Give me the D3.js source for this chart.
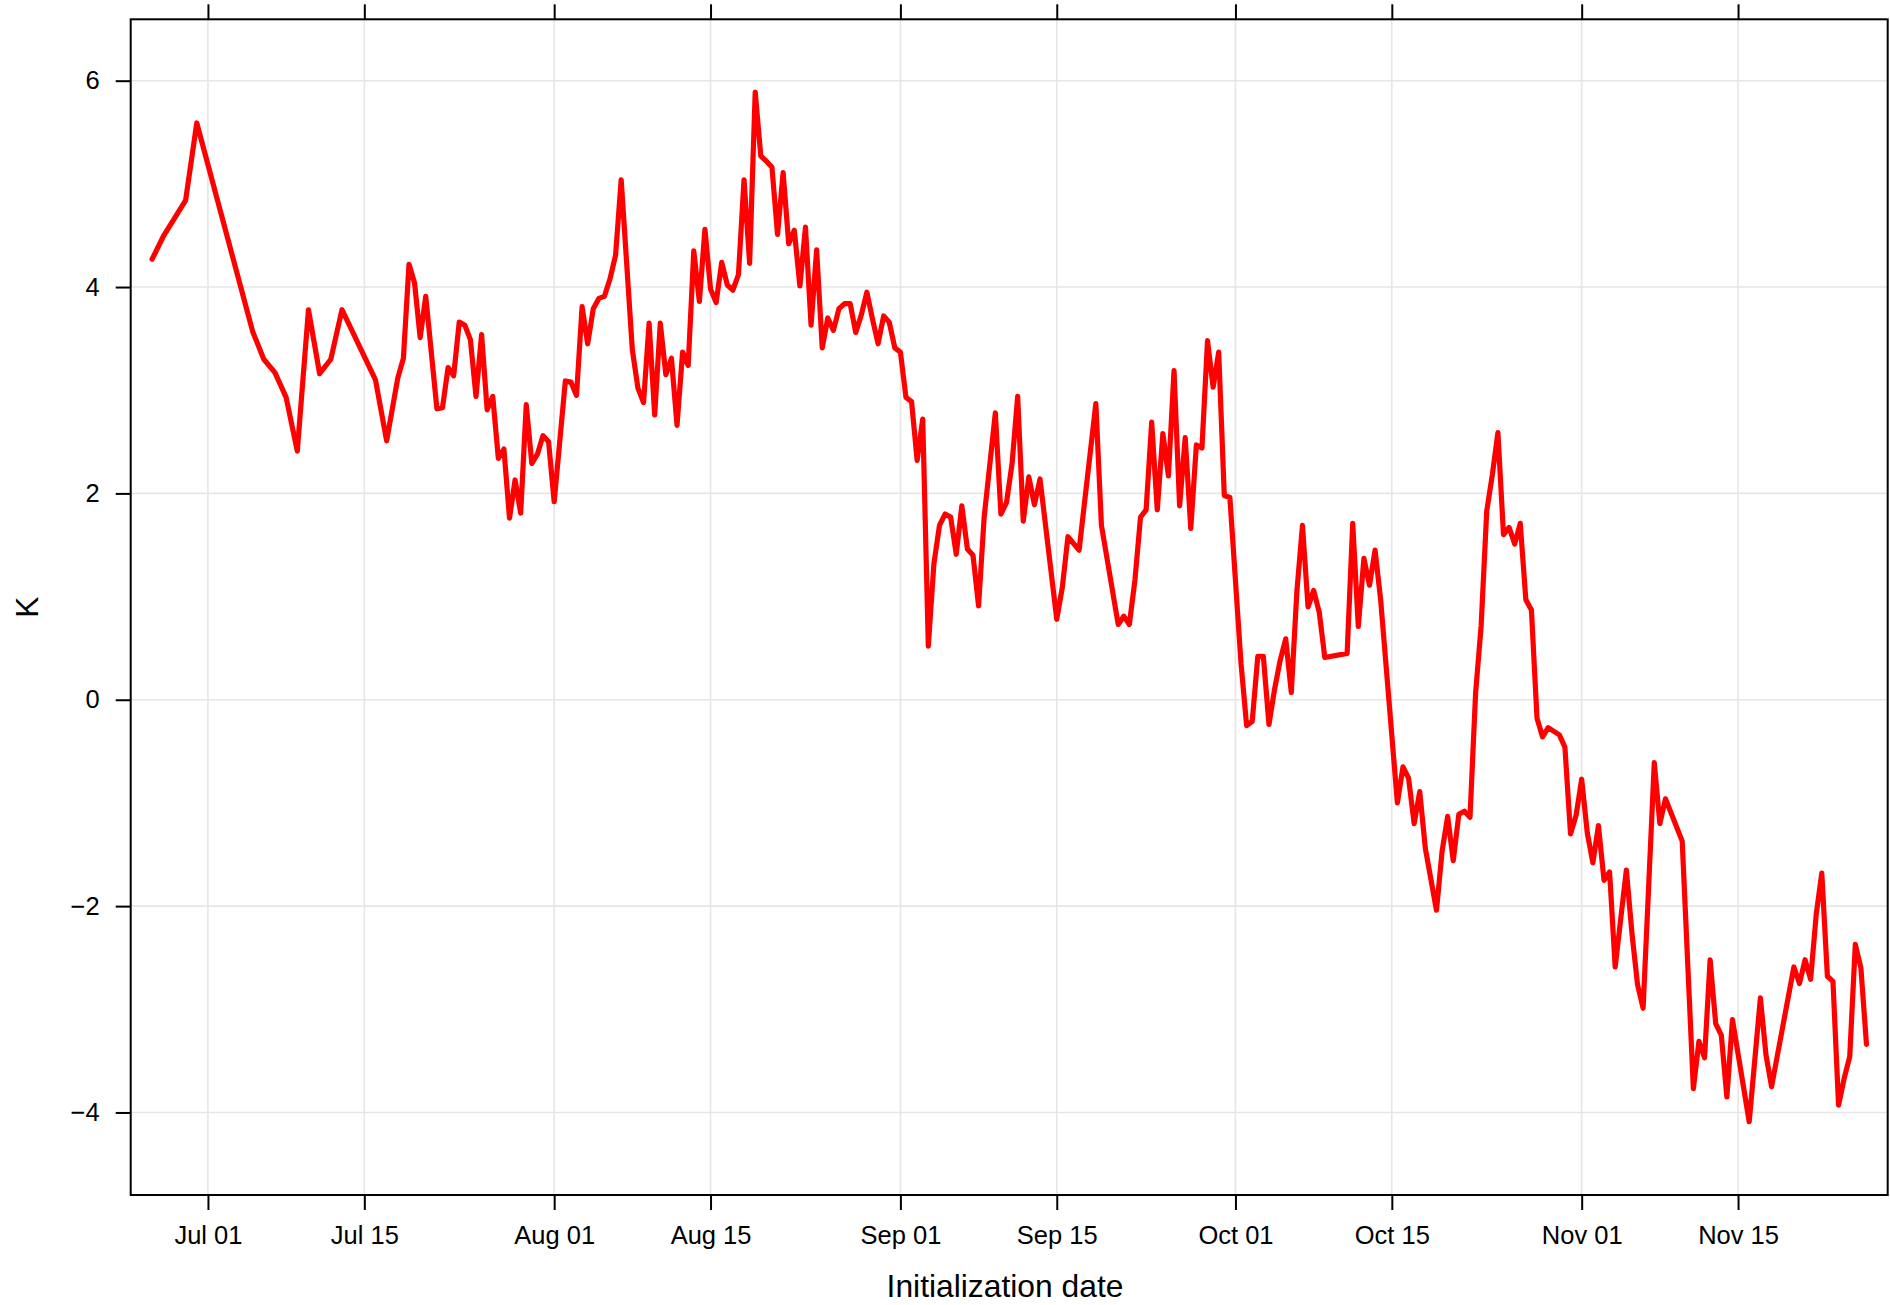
<!DOCTYPE html>
<html>
<head>
<meta charset="utf-8">
<script src="https://cdn.jsdelivr.net/npm/d3@7"></script>
<style>
  html, body { margin: 0; padding: 0; background: #fff; }
  svg { display: block; }
  text { font-family: "Liberation Sans", Arial, Helvetica, sans-serif; fill: #000; }
</style>
</head>
<body>
<svg id="chart" width="1890" height="1305"></svg>
<script>
// ---------------- data ----------------
const dates = [
"06-26 00","06-27 00","06-29 00","06-30 00","07-05 00","07-06 00","07-07 00","07-08 00","07-09 00","07-10 00",
"07-11 00","07-12 00","07-13 00","07-16 00","07-17 00","07-18 00","07-18 12","07-19 00","07-19 12","07-20 00",
"07-20 12","07-21 12","07-22 00","07-22 12","07-23 00","07-23 12","07-24 00","07-24 12","07-25 00","07-25 12",
"07-26 00","07-26 12","07-27 00","07-27 12","07-28 00","07-28 12","07-29 00","07-29 12","07-30 00","07-30 12",
"07-31 00","07-31 12","08-01 00","08-02 00","08-02 12","08-03 00","08-03 12","08-04 00","08-04 12","08-05 00",
"08-05 12","08-06 00","08-06 12","08-07 00","08-08 00","08-08 12","08-09 00","08-09 12","08-10 00","08-10 12",
"08-11 00","08-11 12","08-12 00","08-12 12","08-13 00","08-13 12","08-14 00","08-14 12","08-15 00","08-15 12",
"08-16 00","08-16 12","08-17 00","08-17 12","08-18 00","08-18 12","08-19 00","08-19 12","08-20 00","08-20 12",
"08-21 00","08-21 12","08-22 00","08-22 12","08-23 00","08-23 12","08-24 00","08-24 12","08-25 00","08-25 12",
"08-26 00","08-26 12","08-27 00","08-27 12","08-28 00","08-28 12","08-29 00","08-29 12","08-30 00","08-30 12",
"08-31 00","08-31 12","09-01 00","09-01 12","09-02 00","09-02 12","09-03 00","09-03 12","09-04 00","09-04 12",
"09-05 00","09-05 12","09-06 00","09-06 12","09-07 00","09-07 12","09-08 00","09-08 12","09-09 12","09-10 00",
"09-10 12","09-11 00","09-11 12","09-12 00","09-12 12","09-13 00","09-13 12","09-15 00","09-15 12","09-16 00",
"09-17 00","09-18 12","09-19 00","09-20 12","09-21 00","09-21 12","09-22 00","09-22 12","09-23 00","09-23 12",
"09-24 00","09-24 12","09-25 00","09-25 12","09-26 00","09-26 12","09-27 00","09-27 12","09-28 00","09-28 12",
"09-29 00","09-29 12","09-30 00","09-30 12","10-01 12","10-02 00","10-02 12","10-03 00","10-03 12","10-04 00",
"10-04 12","10-05 00","10-05 12","10-06 00","10-06 12","10-07 00","10-07 12","10-08 00","10-08 12","10-09 00",
"10-11 00","10-11 12","10-12 00","10-12 12","10-13 00","10-13 12","10-14 00","10-15 12","10-16 00","10-16 12",
"10-17 00","10-17 12","10-18 00","10-19 00","10-19 12","10-20 00","10-20 12","10-21 00","10-21 12","10-22 00",
"10-22 12","10-23 00","10-23 12","10-24 00","10-24 12","10-25 00","10-25 12","10-26 00","10-26 12","10-27 00",
"10-27 12","10-28 00","10-28 12","10-29 00","10-30 00","10-30 12","10-31 00","10-31 12","11-01 00","11-01 12",
"11-02 00","11-02 12","11-03 00","11-03 12","11-04 00","11-05 00","11-05 12","11-06 00","11-06 12","11-07 12",
"11-08 00","11-08 12","11-10 00","11-11 00","11-11 12","11-12 00","11-12 12","11-13 00","11-13 12","11-14 00",
"11-14 12","11-16 00","11-17 00","11-17 12","11-18 00","11-20 00","11-20 12","11-21 00","11-21 12","11-22 00",
"11-22 12","11-23 00","11-23 12","11-24 00","11-24 12","11-25 00","11-25 12","11-26 00","11-26 12"
];
const values = [
4.27,4.49,4.84,5.59,3.57,3.30,3.17,2.93,2.41,3.78,
3.16,3.30,3.78,3.10,2.51,3.12,3.31,4.22,4.04,3.51,
3.91,2.82,2.83,3.22,3.14,3.66,3.63,3.49,2.94,3.54,
2.81,2.94,2.34,2.43,1.76,2.13,1.81,2.86,2.29,2.38,
2.56,2.50,1.92,3.09,3.08,2.95,3.81,3.45,3.79,3.89,
3.91,4.08,4.31,5.04,3.39,3.02,2.88,3.65,2.76,3.65,
3.15,3.31,2.66,3.37,3.24,4.35,3.86,4.56,3.98,3.85,
4.24,4.02,3.97,4.12,5.04,4.23,5.89,5.27,5.22,5.16,
4.51,5.11,4.42,4.55,4.01,4.58,3.63,4.36,3.41,3.70,
3.58,3.79,3.84,3.84,3.56,3.73,3.95,3.69,3.45,3.72,
3.66,3.41,3.37,2.93,2.89,2.32,2.72,0.52,1.32,1.69,
1.80,1.77,1.41,1.88,1.46,1.40,0.91,1.77,2.78,1.80,
1.91,2.29,2.94,1.73,2.16,1.89,2.14,0.78,1.09,1.58,
1.45,2.87,1.69,0.73,0.81,0.73,1.16,1.77,1.84,2.69,
1.84,2.58,2.17,3.19,1.88,2.54,1.66,2.47,2.44,3.48,
3.03,3.37,1.98,1.96,0.35,-0.25,-0.21,0.42,0.42,-0.24,
0.10,0.38,0.59,0.07,1.05,1.69,0.90,1.06,0.85,0.41,
0.45,1.71,0.71,1.37,1.11,1.45,0.97,-1.00,-0.65,-0.76,
-1.20,-0.89,-1.44,-2.04,-1.47,-1.13,-1.56,-1.11,-1.08,-1.14,
0.06,0.72,1.83,2.18,2.59,1.60,1.67,1.51,1.71,0.97,
0.87,-0.18,-0.36,-0.27,-0.34,-0.46,-1.30,-1.12,-0.77,-1.29,
-1.58,-1.22,-1.75,-1.67,-2.59,-1.65,-2.26,-2.76,-2.99,-0.61,
-1.20,-0.96,-1.37,-3.77,-3.31,-3.47,-2.52,-3.14,-3.25,-3.85,
-3.10,-4.09,-2.89,-3.44,-3.75,-2.59,-2.75,-2.52,-2.71,-2.08,
-1.68,-2.68,-2.73,-3.93,-3.67,-3.46,-2.37,-2.60,-3.34
];
const xTickDates = ["07-01","07-15","08-01","08-15","09-01","09-15","10-01","10-15","11-01","11-15"];
const yTicks = [-4, -2, 0, 2, 4, 6];
const xDomainEnds = ["06-24 02:00", "11-28 09:36"];
const yDomain = [-4.80, 6.595];
const xLabel = "Initialization date";
const yLabel = "K";

// ---------------- layout ----------------
const plot = { left: 130.7, right: 1887.7, top: 19.3, bottom: 1195 };
const parseT = d3.utcParse("%m-%d %H");
const parseTM = d3.utcParse("%m-%d %H:%M");
const parseD = d3.utcParse("%m-%d");

const series = dates.map((d, i) => ({ t: parseT(d), v: values[i] }));

const x = d3.scaleUtc()
  .domain(xDomainEnds.map(parseTM))
  .range([plot.left, plot.right]);
const y = d3.scaleLinear().domain(yDomain).range([plot.bottom, plot.top]);

const svg = d3.select("#chart");
const xt = xTickDates.map(parseD);
const fmt = d3.utcFormat("%b %d");

// grid
const grid = svg.append("g").attr("stroke", "#e6e6e6").attr("stroke-width", 1.6);
grid.selectAll("line.gx").data(xt).join("line")
  .attr("x1", d => x(d)).attr("x2", d => x(d))
  .attr("y1", plot.top).attr("y2", plot.bottom);
grid.selectAll("line.gy").data(yTicks).join("line")
  .attr("x1", plot.left).attr("x2", plot.right)
  .attr("y1", d => y(d)).attr("y2", d => y(d));

// axes (ticks outward)
const tickLen = 15;
const fontTick = 25.5;
const axB = d3.axisBottom(x).tickValues(xt).tickFormat(fmt).tickSize(tickLen).tickPadding(16);
const axT = d3.axisTop(x).tickValues(xt).tickFormat("").tickSize(tickLen);
const axL = d3.axisLeft(y).tickValues(yTicks).tickFormat(d => d < 0 ? "\u2212" + Math.abs(d) : d).tickSize(tickLen).tickPadding(16);

function style(g) {
  g.select(".domain").remove();
  g.selectAll(".tick line").attr("stroke", "#000").attr("stroke-width", 2);
  g.selectAll(".tick text").attr("font-size", fontTick)
    .attr("font-family", '"Liberation Sans", Arial, Helvetica, sans-serif').attr("fill", "#000");
}
svg.append("g").attr("transform", `translate(0,${plot.bottom})`).call(axB).call(style);
svg.append("g").attr("transform", `translate(0,${plot.top})`).call(axT).call(style);
svg.append("g").attr("transform", `translate(${plot.left},0)`).call(axL).call(style);

// line
const line = d3.line().x(d => x(d.t)).y(d => y(d.v));
svg.append("path").datum(series)
  .attr("d", line)
  .attr("fill", "none")
  .attr("stroke", "#ff0000")
  .attr("stroke-width", 5.2)
  .attr("stroke-linejoin", "round")
  .attr("stroke-linecap", "round");

// frame
svg.append("rect")
  .attr("x", plot.left).attr("y", plot.top)
  .attr("width", plot.right - plot.left).attr("height", plot.bottom - plot.top)
  .attr("fill", "none").attr("stroke", "#000").attr("stroke-width", 2);

// axis titles
svg.append("text")
  .attr("x", 1005).attr("y", 1297)
  .attr("text-anchor", "middle").attr("font-size", 31.8)
  .text(xLabel);
svg.append("text")
  .attr("transform", `translate(38,${(plot.top + plot.bottom) / 2}) rotate(-90)`)
  .attr("text-anchor", "middle").attr("font-size", 31.8)
  .text(yLabel);
</script>
</body>
</html>
